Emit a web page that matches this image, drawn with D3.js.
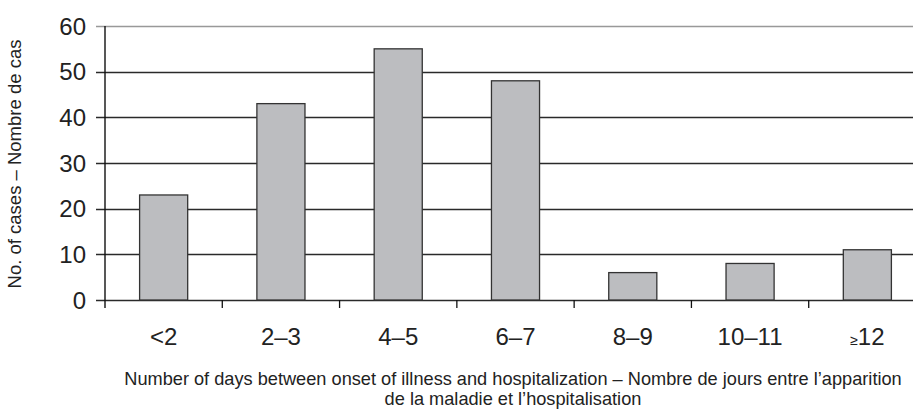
<!DOCTYPE html>
<html>
<head>
<meta charset="utf-8">
<script src="https://cdn.jsdelivr.net/npm/d3@7"></script>
<style>
  body { margin: 0; background: #fff; }
  svg { display: block; }
</style>
</head>
<body>
<script>
// categories, values and tick labels
const categories = ['<2', '2–3', '4–5', '6–7', '8–9', '10–11', '≥12']
const cases = [23, 43, 55, 48, 6, 8, 11]
const yTicks = [0, 10, 20, 30, 40, 50, 60]

const width = 913
const height = 409
const margin = { left: 105, top: 26, bottom: 109 }
const plotBottom = height - margin.bottom // y of 0

const svg = d3.select('body').append('svg')
  .attr('width', width)
  .attr('height', height)

// band scale runs past the right edge, the picture is cut there
const x = d3.scaleBand()
  .domain(categories)
  .range([margin.left, margin.left + 821])
  .paddingInner(0.59)
  .paddingOuter(0.295)

const y = d3.scaleLinear()
  .domain([0, 60])
  .range([plotBottom, margin.top])

const step = x.step()

// horizontal grid lines
svg.append('g')
  .selectAll('line')
  .data(yTicks)
  .enter()
  .append('line')
  .attr('x1', margin.left - 9)
  .attr('x2', width)
  .attr('y1', d => Math.round(y(d)) + 0.5)
  .attr('y2', d => Math.round(y(d)) + 0.5)
  .attr('stroke', d => d === 60 ? '#999' : '#2a2a2a')
  .attr('stroke-width', 1.4)

// bars
svg.append('g')
  .selectAll('rect')
  .data(cases)
  .enter()
  .append('rect')
  .attr('x', (d, i) => x(categories[i]))
  .attr('y', d => y(d))
  .attr('width', x.bandwidth())
  .attr('height', d => plotBottom - y(d))
  .attr('fill', '#bcbdc0')
  .attr('stroke', '#333')
  .attr('stroke-width', 1.3)

// y axis line
svg.append('line')
  .attr('x1', margin.left).attr('x2', margin.left)
  .attr('y1', margin.top).attr('y2', plotBottom + 8)
  .attr('stroke', '#111')
  .attr('stroke-width', 1.4)

// y tick labels
svg.append('g')
  .selectAll('text')
  .data(yTicks)
  .enter()
  .append('text')
  .attr('x', margin.left - 19)
  .attr('y', d => y(d))
  .attr('dy', '0.36em')
  .attr('text-anchor', 'end')
  .attr('font-family', 'Liberation Sans, Arial, sans-serif')
  .attr('font-size', 24)
  .attr('fill', '#222')
  .text(d => d)

// x ticks at band boundaries
svg.append('g')
  .selectAll('line')
  .data(categories.slice(1))
  .enter()
  .append('line')
  .attr('x1', d => x(d) + x.bandwidth() / 2 - step / 2)
  .attr('x2', d => x(d) + x.bandwidth() / 2 - step / 2)
  .attr('y1', plotBottom)
  .attr('y2', plotBottom + 8)
  .attr('stroke', '#111')
  .attr('stroke-width', 1.3)

// x tick labels
svg.append('g')
  .selectAll('text')
  .data(categories)
  .enter()
  .append('text')
  .attr('x', d => x(d) + x.bandwidth() / 2)
  .attr('y', plotBottom + 45)
  .attr('text-anchor', 'middle')
  .attr('font-family', 'Liberation Sans, Arial, sans-serif')
  .attr('font-size', 24)
  .attr('fill', '#222')
  .each(function (d) {
    const t = d3.select(this)
    if (d[0] === '≥') {
      t.append('tspan').attr('font-size', 14).text('≥')
      t.append('tspan').text(d.slice(1))
    } else {
      t.text(d)
    }
  })

// axis titles
const titleFont = 'Liberation Sans Narrow, Arial Narrow, sans-serif'
const xTitle = svg.append('text')
  .attr('text-anchor', 'middle')
  .attr('font-family', titleFont)
  .attr('font-size', 18.2)
  .attr('fill', '#222')
xTitle.append('tspan')
  .attr('x', 513).attr('y', 385)
  .text('Number of days between onset of illness and hospitalization – Nombre de jours entre l’apparition')
xTitle.append('tspan')
  .attr('x', 513).attr('y', 405)
  .text('de la maladie et l’hospitalisation')

svg.append('text')
  .attr('transform', 'translate(21,164) rotate(-90)')
  .attr('text-anchor', 'middle')
  .attr('font-family', titleFont)
  .attr('font-size', 18.5)
  .attr('fill', '#222')
  .text('No. of cases – Nombre de cas')
</script>
</body>
</html>
